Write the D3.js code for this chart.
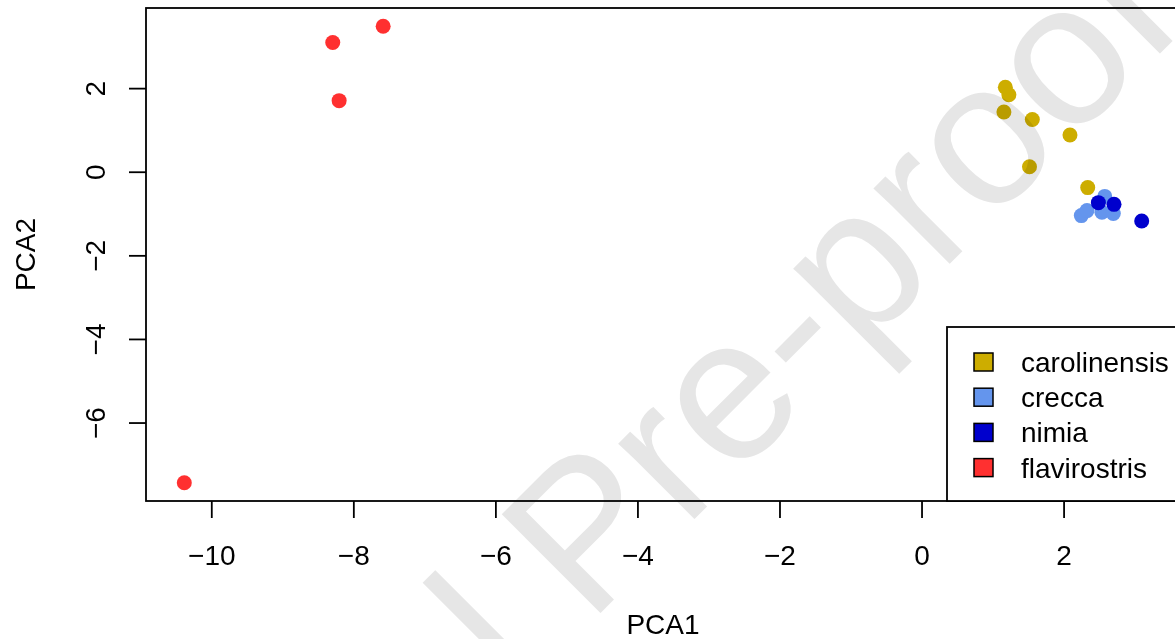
<!DOCTYPE html>
<html>
<head>
<meta charset="utf-8">
<script src="https://cdn.jsdelivr.net/npm/d3@7"></script>
<style>
  html, body { margin: 0; padding: 0; background: #fff; }
  svg { display: block; font-family: "Liberation Sans", Arial, Helvetica, sans-serif; }
</style>
</head>
<body>
<svg id="chart" width="1175" height="639"></svg>
<script>
// ---- data ----
const species = ["carolinensis", "crecca", "nimia", "flavirostris"];
const speciesColors = ["#CDAD00", "#6495ED", "#0000CD", "#FF3030"];

const carolinensisPC1 = [1.18, 1.23, 1.16, 1.56, 2.09, 1.52, 2.34];
const carolinensisPC2 = [2.02, 1.84, 1.43, 1.25, 0.88, 0.12, -0.38];
const creccaPC1 = [2.58, 2.25, 2.33, 2.54, 2.70];
const creccaPC2 = [-0.59, -1.05, -0.93, -0.97, -1.00];
const nimiaPC1 = [2.49, 2.71, 3.10];
const nimiaPC2 = [-0.74, -0.78, -1.18];
const flavirostrisPC1 = [-7.58, -8.29, -8.20, -10.38];
const flavirostrisPC2 = [3.48, 3.09, 1.70, -7.44];

const xTicks = [-10, -8, -6, -4, -2, 0, 2];
const yTicks = [-6, -4, -2, 0, 2];
const xLabel = "PCA1";
const yLabel = "PCA2";
const watermark = "Journal Pre-proof";

// ---- build ----
const seriesPC1 = [carolinensisPC1, creccaPC1, nimiaPC1, flavirostrisPC1];
const seriesPC2 = [carolinensisPC2, creccaPC2, nimiaPC2, flavirostrisPC2];
const points = [];
species.forEach((sp, i) => {
  seriesPC1[i].forEach((v, j) => points.push({ sp, color: speciesColors[i], x: v, y: seriesPC2[i][j] }));
});

const svg = d3.select("#chart");
const plot = { left: 146, top: 8, right: 1180, bottom: 501 };

function expand(ext) {
  const r = ext[1] - ext[0];
  return [ext[0] - 0.04 * r, ext[1] + 0.04 * r];
}
const x = d3.scaleLinear().domain(expand(d3.extent(points, d => d.x))).range([plot.left, plot.right]);
const y = d3.scaleLinear().domain(expand(d3.extent(points, d => d.y))).range([plot.bottom, plot.top]);

const fontSize = 28;

// points
svg.append("g").selectAll("circle").data(points).join("circle")
  .attr("cx", d => x(d.x)).attr("cy", d => y(d.y)).attr("r", 7.5)
  .attr("fill", d => d.color);

// x axis
const gx = svg.append("g").attr("transform", `translate(0,${plot.bottom})`)
  .call(d3.axisBottom(x).tickValues(xTicks).tickSize(17).tickSizeOuter(0));
gx.select(".domain").remove();
gx.selectAll(".tick line").attr("stroke", "#000").attr("stroke-width", 1.8);
gx.selectAll(".tick text").attr("y", 64).attr("dy", 0).attr("fill", "#000")
  .attr("font-size", fontSize).attr("font-family", null);

// y axis
const gy = svg.append("g").attr("transform", `translate(${plot.left},0)`)
  .call(d3.axisLeft(y).tickValues(yTicks).tickSize(17).tickSizeOuter(0));
gy.select(".domain").remove();
gy.selectAll(".tick line").attr("stroke", "#000").attr("stroke-width", 1.8);
gy.selectAll(".tick text").attr("x", null).attr("dy", null).attr("fill", "#000")
  .attr("text-anchor", "middle").attr("font-size", fontSize).attr("font-family", null)
  .attr("transform", "translate(-41,0) rotate(-90)");

// frame
svg.append("rect").attr("x", plot.left).attr("y", plot.top)
  .attr("width", plot.right - plot.left).attr("height", plot.bottom - plot.top)
  .attr("fill", "none").attr("stroke", "#000").attr("stroke-width", 1.8);

// axis titles
svg.append("text").attr("x", (plot.left + plot.right) / 2).attr("y", 634)
  .attr("text-anchor", "middle").attr("font-size", fontSize).text(xLabel);
svg.append("text").attr("transform", `translate(35,${(plot.top + plot.bottom) / 2}) rotate(-90)`)
  .attr("text-anchor", "middle").attr("font-size", fontSize).text(yLabel);

// legend
const lg = svg.append("g");
lg.append("rect").attr("x", 947).attr("y", 327).attr("width", plot.right - 947).attr("height", plot.bottom - 327)
  .attr("fill", "#fff").attr("stroke", "#000").attr("stroke-width", 1.8);
species.forEach((sp, i) => {
  const cy = 362 + i * 35.2;
  lg.append("rect").attr("x", 974).attr("y", cy - 9).attr("width", 19).attr("height", 18)
    .attr("fill", speciesColors[i]).attr("stroke", "#000").attr("stroke-width", 1.5);
  lg.append("text").attr("x", 1021).attr("y", cy + 10).attr("font-size", fontSize).text(sp);
});

// watermark overlay
const wmSize = 203;
const lTop = [428, 576];
const lBase = [lTop[0] + 0.516 * wmSize, lTop[1] + 0.516 * wmSize];
const back = 3.168 * wmSize * Math.SQRT1_2;
svg.append("text")
  .attr("transform", `translate(${lBase[0] - back},${lBase[1] + back}) rotate(-45)`)
  .attr("font-size", wmSize).attr("fill", "#e6e6e6")
  .style("mix-blend-mode", "multiply")
  .text(watermark);
</script>
</body>
</html>
